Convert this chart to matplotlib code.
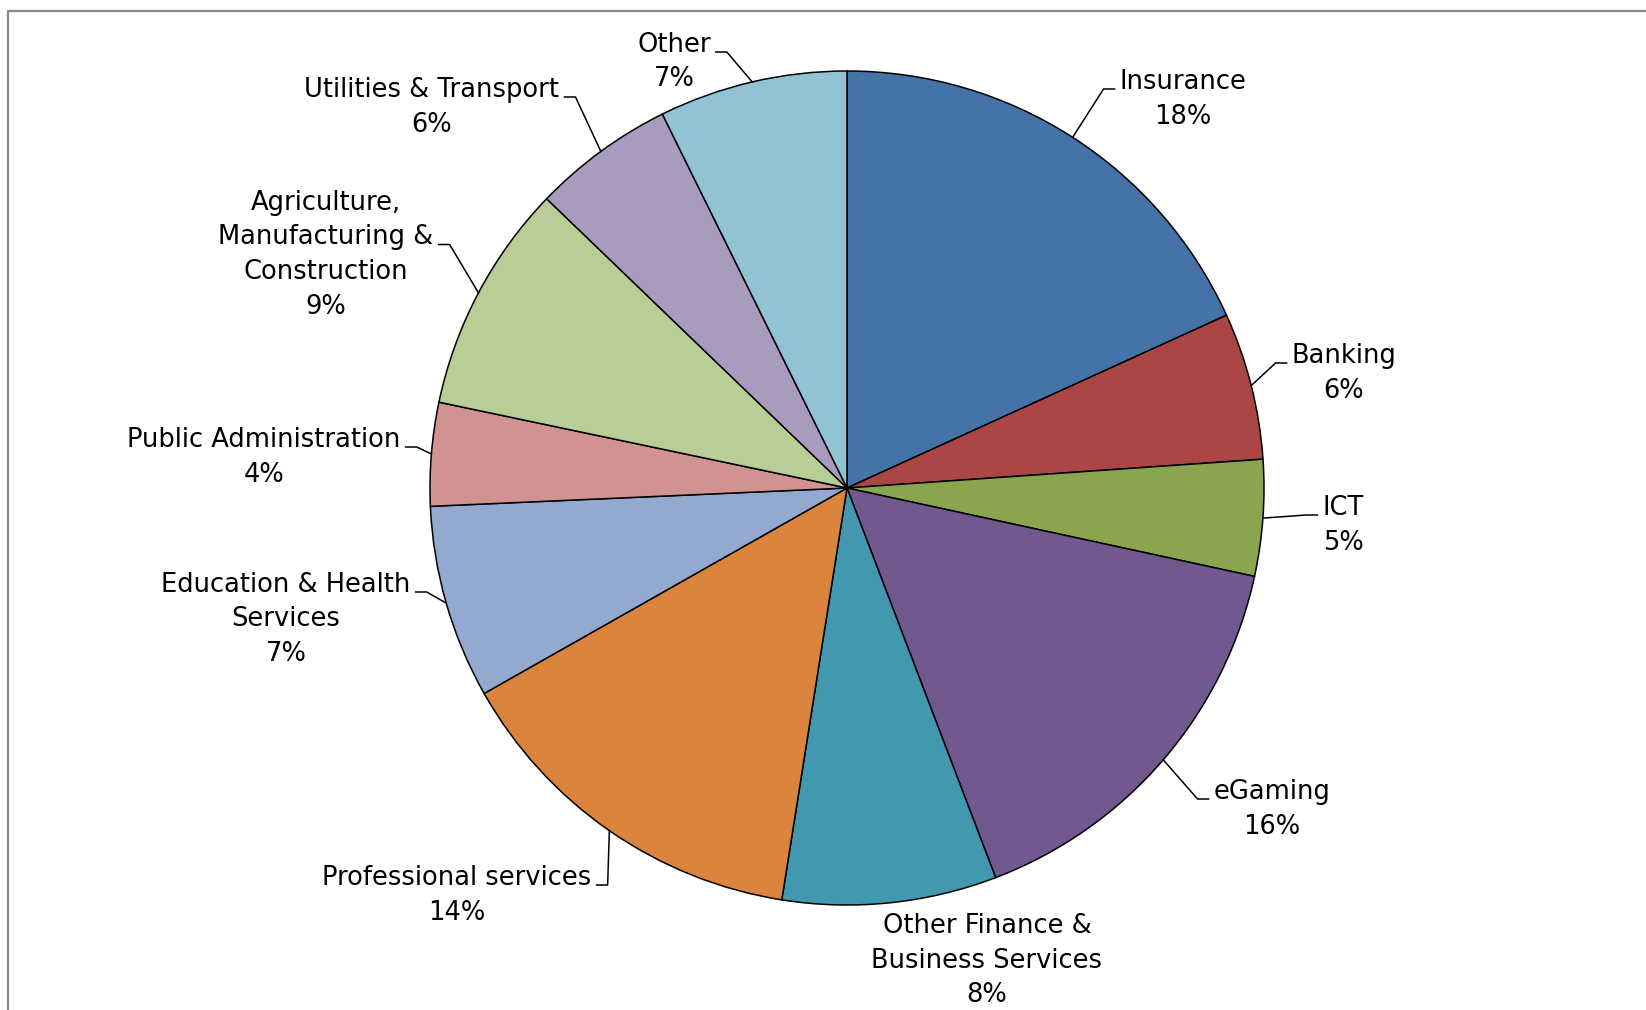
import matplotlib
matplotlib.use('Agg')
import matplotlib.pyplot as plt
import numpy as np

## Sector shares (clockwise from 12 o'clock)
sectors = ['Insurance', 'Banking', 'ICT', 'eGaming',
           'Other Finance &\nBusiness Services', 'Professional services',
           'Education & Health\nServices', 'Public Administration',
           'Agriculture,\nManufacturing &\nConstruction',
           'Utilities & Transport', 'Other']
shares = [18.2, 5.7, 4.5, 15.8, 8.3, 14.3, 7.5, 4.0, 8.9, 5.5, 7.3]
pct_labels = ['18%', '6%', '5%', '16%', '8%', '14%', '7%', '4%', '9%', '6%', '7%']

colors = ['#4572A7', '#AA4643', '#89A54E', '#71588F', '#4198AF', '#DB843D',
          '#93A9CF', '#D19392', '#B9CD96', '#A99BBD', '#92C3D4']

## Label layout in pixels from the top-left: centre x, first baseline,
## which line the leader joins (None = no leader)
label_x = [1183, 1344, 1343, 1272, 987, 457, 286, 264, 326, 432, 674]
label_base = [89, 363, 515, 799, 933, 885, 592, 447, 210, 97, 52]
leader_line = [0, 0, 0, 0, None, 0, 0, 0, 1, 0, 0]

W, H = 1646, 1010
line_gap = 34.5

fig = plt.figure(figsize=(W / 100, H / 100), dpi=100)
ax = fig.add_axes([0, 0, 1, 1])

cx, cy, r = 847, H - 488, 417
wedges, _ = ax.pie(shares, colors=colors, startangle=90, counterclock=False,
                   center=(cx, cy), radius=r,
                   wedgeprops=dict(edgecolor='black', linewidth=1.1))
ax.set_xlim(0, W)
ax.set_ylim(0, H)
ax.set_aspect('equal')
ax.axis('off')

## gray chart border, running off the right and bottom edges
ax.plot([8.5, 8.5, W + 10], [-10, H - 11, H - 11], color='#888888', lw=1.6,
        clip_on=False)

texts = []
for i, name in enumerate(sectors):
    lines = name.split('\n') + [pct_labels[i]]
    objs = []
    for k, ln in enumerate(lines):
        t = ax.text(label_x[i], H - (label_base[i] + k * line_gap), ln,
                    ha='center', va='baseline', fontsize=18.5,
                    family='DejaVu Sans', color='black')
        objs.append(t)
    texts.append(objs)

fig.canvas.draw()
renderer = fig.canvas.get_renderer()
inv = ax.transData.inverted()

for i, w in enumerate(wedges):
    if leader_line[i] is None:
        continue
    mid = np.deg2rad((w.theta1 + w.theta2) / 2)
    ex, ey = cx + r * np.cos(mid), cy + r * np.sin(mid)
    t = texts[i][leader_line[i]]
    bb = t.get_window_extent(renderer).transformed(inv)
    by = H - (label_base[i] + leader_line[i] * line_gap)
    if label_x[i] > cx:
        end = bb.x0 - 5
        elbow = end - 11
    else:
        end = bb.x1 + 5
        elbow = end + 11
    ax.plot([ex, elbow, end], [ey, by, by], color='black', lw=1.1)

fig.savefig('out.png', dpi=100)
